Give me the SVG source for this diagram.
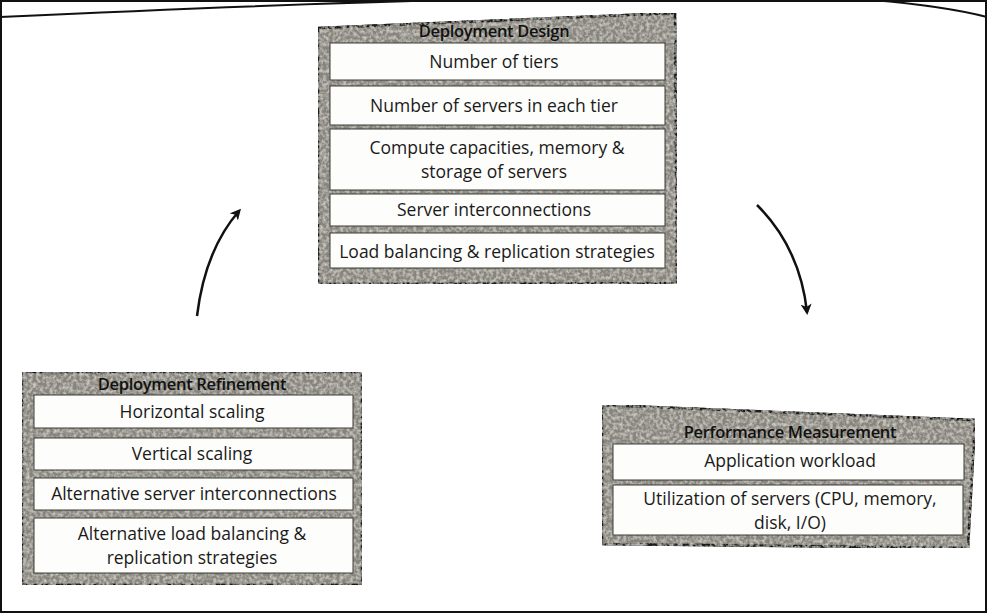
<svg xmlns="http://www.w3.org/2000/svg" width="987" height="613" viewBox="0 0 987 613">
<style>
  .t{font-family:"Open Sans","Liberation Sans",sans-serif;font-size:17.5px;fill:#1a1a1a;text-anchor:middle}
  .h{font-family:"Open Sans","Liberation Sans",sans-serif;font-size:16.5px;font-weight:600;fill:#111;text-anchor:middle;letter-spacing:-0.3px}
  .row{fill:#fdfdfb;stroke:#3a3a36;stroke-width:1}
  .box{fill:#86847b;stroke:#1a1a18;stroke-width:2.5;filter:url(#grain)}
  .arr{fill:none;stroke:#111;stroke-width:2.5;marker-end:url(#ah)}
</style>
<defs>
  <filter id="grain" x="0" y="0" width="100%" height="100%">
    <feTurbulence type="fractalNoise" baseFrequency="0.3" numOctaves="2" seed="3" result="n"/>
    <feColorMatrix in="n" type="matrix" values="0 0 0 0 0.74  0 0 0 0 0.73  0 0 0 0 0.68  0 0 0 1.6 -0.6" result="c"/>
    <feComposite in="c" in2="SourceGraphic" operator="atop" result="t"/>
    <feMerge><feMergeNode in="SourceGraphic"/><feMergeNode in="t"/></feMerge>
  </filter>
  <marker id="ah" markerWidth="11" markerHeight="11" refX="8" refY="5.5" orient="auto" markerUnits="userSpaceOnUse">
    <path d="M0,0 L11,5.5 L0,11 L3,5.5 Z" fill="#111"/>
  </marker>
</defs>
<rect x="0" y="0" width="987" height="613" fill="#ffffff"/>
<rect x="1" y="1" width="985" height="611" fill="none" stroke="#111" stroke-width="2"/>
<path d="M0,17 C150,10 330,3 450,0 M872,0 C920,4 960,10 987,17" fill="none" stroke="#111" stroke-width="2"/>

<g id="deployment-design">
  <polygon class="box" points="318,28 675,13 677,283 318,284"/>
  <text class="h" x="494" y="37">Deployment Design</text>
  <rect class="row" x="330" y="43" width="335" height="37"/>
  <text class="t" x="494" y="68">Number of tiers</text>
  <rect class="row" x="330" y="86" width="335" height="39"/>
  <text class="t" x="494" y="112">Number of servers in each tier</text>
  <rect class="row" x="330" y="129" width="335" height="61"/>
  <text class="t" x="497" y="154">Compute capacities, memory &amp;</text>
  <text class="t" x="494" y="178">storage of servers</text>
  <rect class="row" x="330" y="194" width="335" height="32"/>
  <text class="t" x="494" y="216">Server interconnections</text>
  <rect class="row" x="330" y="233" width="335" height="35"/>
  <text class="t" x="497" y="258">Load balancing &amp; replication strategies</text>
</g>

<g id="deployment-refinement">
  <rect class="box" x="22" y="372" width="340" height="213"/>
  <text class="h" x="192" y="390">Deployment Refinement</text>
  <rect class="row" x="34" y="395" width="319" height="33"/>
  <text class="t" x="192" y="418">Horizontal scaling</text>
  <rect class="row" x="34" y="438" width="319" height="32"/>
  <text class="t" x="192" y="460">Vertical scaling</text>
  <rect class="row" x="34" y="478" width="319" height="32"/>
  <text class="t" x="194" y="500">Alternative server interconnections</text>
  <rect class="row" x="34" y="518" width="319" height="55"/>
  <text class="t" x="192" y="540">Alternative load balancing &amp;</text>
  <text class="t" x="192" y="564">replication strategies</text>
</g>

<g id="performance-measurement">
  <polygon class="box" points="602,405 975,420 968,548 602,544"/>
  <text class="h" x="790" y="438">Performance Measurement</text>
  <rect class="row" x="613" y="444" width="351" height="36"/>
  <text class="t" x="790" y="467">Application workload</text>
  <rect class="row" x="613" y="485" width="350" height="50"/>
  <text class="t" x="790" y="505">Utilization of servers (CPU, memory,</text>
  <text class="t" x="790" y="529">disk, I/O)</text>
</g>

<g id="connectors">
  <path class="arr" d="M197,316 Q205,250 239,211"/>
  <path class="arr" d="M757,205 Q800,248 807,312"/>
</g>
</svg>
